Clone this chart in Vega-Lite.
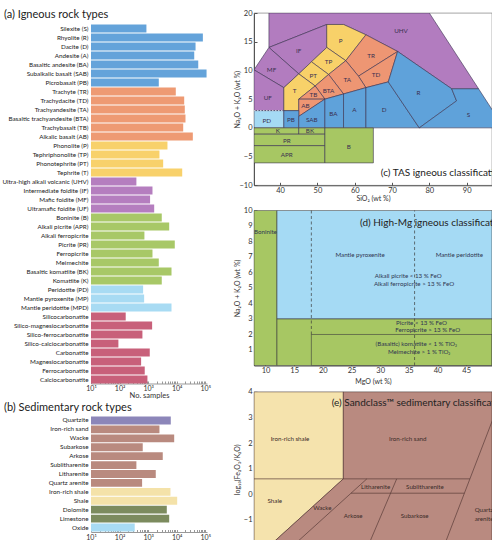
{
  "$schema": "https://vega.github.io/schema/vega-lite/v6.json",
  "background": "white",
  "padding": {"left": 0, "top": 8, "right": 0, "bottom": 0},
  "spacing": 21,
  "resolve": {"scale": {"color": "independent", "fill": "independent", "x": "independent", "y": "independent"}},
  "config": {
    "font": "Lato",
    "axis": {"labelFont": "Lato", "titleFont": "Lato", "labelColor": "#333", "titleColor": "#333", "grid": false, "titleFontWeight": "normal", "labelOverlap": false, "tickCount": 100},
    "title": {"font": "Lato", "fontWeight": "normal", "color": "#222"},
    "text": {"font": "Lato"}
  },
  "hconcat": [
    {
      "spacing": 3,
      "resolve": {"scale": {"color": "independent", "fill": "independent", "x": "independent", "y": "independent"}},
      "vconcat": [
        {
          "width": 116,
          "height": 370.5,
          "view": {"stroke": null},
          "title": {"text": "(a) Igneous rock types", "anchor": "start", "frame": "group", "dx": -87, "fontSize": 11, "offset": -7},
          "data": {"values": [
            {"rock": "Silexite (S)", "n": 871, "grp": "sub"},
            {"rock": "Rhyolite (R)", "n": 82400, "grp": "sub"},
            {"rock": "Dacite (D)", "n": 45700, "grp": "sub"},
            {"rock": "Andesite (A)", "n": 41100, "grp": "sub"},
            {"rock": "Basaltic andesite (BA)", "n": 56800, "grp": "sub"},
            {"rock": "Subalkalic basalt (SAB)", "n": 111000, "grp": "sub"},
            {"rock": "Picrobasalt (PB)", "n": 2360, "grp": "sub"},
            {"rock": "Trachyte (TR)", "n": 9290, "grp": "alk"},
            {"rock": "Trachydacite (TD)", "n": 18300, "grp": "alk"},
            {"rock": "Trachyandesite (TA)", "n": 19200, "grp": "alk"},
            {"rock": "Basaltic trachyandesite (BTA)", "n": 20300, "grp": "alk"},
            {"rock": "Trachybasalt (TB)", "n": 16900, "grp": "alk"},
            {"rock": "Alkalic basalt (AB)", "n": 36700, "grp": "alk"},
            {"rock": "Phonolite (P)", "n": 4750, "grp": "pho"},
            {"rock": "Tephriphonolite (TP)", "n": 2490, "grp": "pho"},
            {"rock": "Phonotephrite (PT)", "n": 3360, "grp": "pho"},
            {"rock": "Tephrite (T)", "n": 15600, "grp": "pho"},
            {"rock": "Ultra-high alkali volcanic (UHV)", "n": 388, "grp": "foi"},
            {"rock": "Intermediate foidite (IF)", "n": 1420, "grp": "foi"},
            {"rock": "Mafic foidite (MF)", "n": 1170, "grp": "foi"},
            {"rock": "Ultramafic foidite (UF)", "n": 1630, "grp": "foi"},
            {"rock": "Boninite (B)", "n": 3000, "grp": "hmg"},
            {"rock": "Alkali picrite (APR)", "n": 5460, "grp": "hmg"},
            {"rock": "Alkali ferropicrite", "n": 741, "grp": "hmg"},
            {"rock": "Picrite (PR)", "n": 8570, "grp": "hmg"},
            {"rock": "Ferropicrite", "n": 1420, "grp": "hmg"},
            {"rock": "Meimechite", "n": 2360, "grp": "hmg"},
            {"rock": "Basaltic komatiite (BK)", "n": 6580, "grp": "hmg"},
            {"rock": "Komatiite (K)", "n": 3000, "grp": "hmg"},
            {"rock": "Peridotite (PD)", "n": 668, "grp": "man"},
            {"rock": "Mantle pyroxenite (MP)", "n": 725, "grp": "man"},
            {"rock": "Mantle peridotite (MPD)", "n": 6580, "grp": "man"},
            {"rock": "Silicocarbonatite", "n": 164, "grp": "carb"},
            {"rock": "Silico-magnesiocarbonatite", "n": 1380, "grp": "carb"},
            {"rock": "Silico-ferrocarbonatite", "n": 631, "grp": "carb"},
            {"rock": "Silico-calciocarbonatite", "n": 91, "grp": "carb"},
            {"rock": "Carbonatite", "n": 1140, "grp": "carb"},
            {"rock": "Magnesiocarbonatite", "n": 568, "grp": "carb"},
            {"rock": "Ferrocarbonatite", "n": 760, "grp": "carb"},
            {"rock": "Calciocarbonatite", "n": 944, "grp": "carb"}
          ]},
          "mark": {"type": "bar"},
          "encoding": {
            "y": {"field": "rock", "type": "nominal", "sort": null,
              "scale": {"paddingInner": 0.12, "paddingOuter": 0.645, "align": 1},
              "axis": {"title": null, "ticks": false, "domain": false, "labelFontSize": 6.3, "labelPadding": 3, "minExtent": 90.7, "maxExtent": 90.7, "labelLimit": 0, "labelColor": "#222"}},
            "x": {"field": "n", "type": "quantitative", "stack": null,
              "scale": {"type": "log", "domain": [10, 115000], "nice": false},
              "axis": {"title": "No. samples", "titleFontSize": 7.5, "titlePadding": 0, "tickCount": 100,
                "values": [10,20,30,40,50,60,70,80,90,100,200,300,400,500,600,700,800,900,1000,2000,3000,4000,5000,6000,7000,8000,9000,10000,20000,30000,40000,50000,60000,70000,80000,90000,100000],
                "labelExpr": "datum.value == 10 ? '10¹' : datum.value == 100 ? '10²' : datum.value == 1000 ? '10³' : datum.value == 10000 ? '10⁴' : datum.value == 100000 ? '10⁵' : ''",
                "labelFontSize": 7, "labelFlush": false, "labelOverlap": false, "tickSize": -2.5, "labelPadding": 3, "domainColor": "#999", "tickColor": "#999"}},
            "color": {"field": "grp", "type": "nominal", "legend": null,
              "scale": {"domain": ["sub", "alk", "pho", "foi", "hmg", "man", "carb"], "range": ["#64a3da", "#ee9a73", "#f8d16b", "#b57ebf", "#a8c867", "#a8dbf3", "#c8607a"]}}
          }
        },
        {
          "width": 116,
          "height": 116,
          "view": {"stroke": null},
          "title": {"text": "(b) Sedimentary rock types", "anchor": "start", "frame": "group", "dx": -87, "fontSize": 11, "offset": 3},
          "data": {"values": [
            {"rock": "Quartzite", "n": 6210, "grp": "qtz"},
            {"rock": "Iron-rich sand", "n": 2490, "grp": "sand"},
            {"rock": "Wacke", "n": 8170, "grp": "sand"},
            {"rock": "Subarkose", "n": 647, "grp": "sand"},
            {"rock": "Arkose", "n": 3250, "grp": "sand"},
            {"rock": "Sublitharenite", "n": 388, "grp": "sand"},
            {"rock": "Litharenite", "n": 1850, "grp": "sand"},
            {"rock": "Quartz arenite", "n": 615, "grp": "sand"},
            {"rock": "Iron-rich shale", "n": 6050, "grp": "shale"},
            {"rock": "Shale", "n": 10400, "grp": "shale"},
            {"rock": "Dolomite", "n": 4500, "grp": "carb"},
            {"rock": "Limestone", "n": 5460, "grp": "carb"},
            {"rock": "Oxide", "n": 339, "grp": "ox"}
          ]},
          "mark": {"type": "bar"},
          "encoding": {
            "y": {"field": "rock", "type": "nominal", "sort": null,
              "scale": {"paddingInner": 0.12, "paddingOuter": 0.06},
              "axis": {"title": null, "ticks": false, "domain": false, "labelFontSize": 6.3, "labelPadding": 3, "minExtent": 90.7, "maxExtent": 90.7, "labelLimit": 0, "labelColor": "#222"}},
            "x": {"field": "n", "type": "quantitative", "stack": null,
              "scale": {"type": "log", "domain": [10, 115000], "nice": false},
              "axis": {"title": null, "tickCount": 100,
                "values": [10,20,30,40,50,60,70,80,90,100,200,300,400,500,600,700,800,900,1000,2000,3000,4000,5000,6000,7000,8000,9000,10000,20000,30000,40000,50000,60000,70000,80000,90000,100000],
                "labelExpr": "datum.value == 10 ? '10¹' : datum.value == 100 ? '10²' : datum.value == 1000 ? '10³' : datum.value == 10000 ? '10⁴' : datum.value == 100000 ? '10⁵' : ''",
                "labelFontSize": 7, "labelFlush": false, "labelOverlap": false, "tickSize": -2.5, "labelPadding": 4, "domainColor": "#999", "tickColor": "#999"}},
            "color": {"field": "grp", "type": "nominal", "legend": null,
              "scale": {"domain": ["qtz", "sand", "shale", "carb", "ox"], "range": ["#8c86b9", "#b98a7f", "#f4e2a9", "#7c8b5e", "#a8dbf3"]}}
          }
        }
      ]
    },
    {
      "spacing": 2.4,
      "resolve": {"scale": {"color": "independent", "fill": "independent", "x": "independent", "y": "independent"}},
      "vconcat": [
        {
          "width": 238,
          "height": 172.3,
          "view": {"stroke": "#666", "strokeWidth": 0.6},
          "layer": [
            {
              "data": {"values": [
                {"f":"UHV","g":"fo","i":0,"x":37,"y":20},{"f":"UHV","g":"fo","i":1,"x":80,"y":20},{"f":"UHV","g":"fo","i":2,"x":93.2,"y":6.8},{"f":"UHV","g":"fo","i":3,"x":86,"y":6.8},{"f":"UHV","g":"fo","i":4,"x":71.5,"y":13.3},{"f":"UHV","g":"fo","i":5,"x":63,"y":16.2},{"f":"UHV","g":"fo","i":6,"x":57,"y":18},{"f":"UHV","g":"fo","i":7,"x":52.5,"y":18},{"f":"UHV","g":"fo","i":8,"x":37,"y":14},{"f":"UHV","g":"fo","i":9,"x":37,"y":20},
                {"f":"IF","g":"fo","i":0,"x":37,"y":14},{"f":"IF","g":"fo","i":1,"x":52.5,"y":18},{"f":"IF","g":"fo","i":2,"x":52.5,"y":14},{"f":"IF","g":"fo","i":3,"x":48.4,"y":11.5},{"f":"IF","g":"fo","i":4,"x":45,"y":9.4},{"f":"IF","g":"fo","i":5,"x":37,"y":14},
                {"f":"MF","g":"fo","i":0,"x":33,"y":10.1},{"f":"MF","g":"fo","i":1,"x":37,"y":14},{"f":"MF","g":"fo","i":2,"x":45,"y":9.4},{"f":"MF","g":"fo","i":3,"x":41,"y":7},{"f":"MF","g":"fo","i":4,"x":33,"y":10.1},
                {"f":"UF","g":"fo","i":0,"x":33,"y":10.1},{"f":"UF","g":"fo","i":1,"x":41,"y":7},{"f":"UF","g":"fo","i":2,"x":41,"y":3},{"f":"UF","g":"fo","i":3,"x":33,"y":3},{"f":"UF","g":"fo","i":4,"x":33,"y":10.1},
                {"f":"P","g":"ph","i":0,"x":52.5,"y":14},{"f":"P","g":"ph","i":1,"x":52.5,"y":18},{"f":"P","g":"ph","i":2,"x":57,"y":18},{"f":"P","g":"ph","i":3,"x":63,"y":16.2},{"f":"P","g":"ph","i":4,"x":57.6,"y":11.7},{"f":"P","g":"ph","i":5,"x":52.5,"y":14},
                {"f":"TP","g":"ph","i":0,"x":48.4,"y":11.5},{"f":"TP","g":"ph","i":1,"x":52.5,"y":14},{"f":"TP","g":"ph","i":2,"x":57.6,"y":11.7},{"f":"TP","g":"ph","i":3,"x":53,"y":9.3},{"f":"TP","g":"ph","i":4,"x":48.4,"y":11.5},
                {"f":"PT","g":"ph","i":0,"x":45,"y":9.4},{"f":"PT","g":"ph","i":1,"x":48.4,"y":11.5},{"f":"PT","g":"ph","i":2,"x":53,"y":9.3},{"f":"PT","g":"ph","i":3,"x":49.4,"y":7.3},{"f":"PT","g":"ph","i":4,"x":45,"y":9.4},
                {"f":"T","g":"ph","i":0,"x":41,"y":7},{"f":"T","g":"ph","i":1,"x":45,"y":9.4},{"f":"T","g":"ph","i":2,"x":49.4,"y":7.3},{"f":"T","g":"ph","i":3,"x":45,"y":5},{"f":"T","g":"ph","i":4,"x":45,"y":3},{"f":"T","g":"ph","i":5,"x":41,"y":3},{"f":"T","g":"ph","i":6,"x":41,"y":7},
                {"f":"TR","g":"tr","i":0,"x":57.6,"y":11.7},{"f":"TR","g":"tr","i":1,"x":63,"y":16.2},{"f":"TR","g":"tr","i":2,"x":71.5,"y":13.3},{"f":"TR","g":"tr","i":3,"x":61,"y":9},{"f":"TR","g":"tr","i":4,"x":57.6,"y":11.7},
                {"f":"TD","g":"tr","i":0,"x":61,"y":9},{"f":"TD","g":"tr","i":1,"x":71.5,"y":13.3},{"f":"TD","g":"tr","i":2,"x":69,"y":8},{"f":"TD","g":"tr","i":3,"x":63,"y":7},{"f":"TD","g":"tr","i":4,"x":61,"y":9},
                {"f":"TA","g":"tr","i":0,"x":53,"y":9.3},{"f":"TA","g":"tr","i":1,"x":57.6,"y":11.7},{"f":"TA","g":"tr","i":2,"x":61,"y":9},{"f":"TA","g":"tr","i":3,"x":63,"y":7},{"f":"TA","g":"tr","i":4,"x":57,"y":5.9},{"f":"TA","g":"tr","i":5,"x":53,"y":9.3},
                {"f":"BTA","g":"tr","i":0,"x":49.4,"y":7.3},{"f":"BTA","g":"tr","i":1,"x":53,"y":9.3},{"f":"BTA","g":"tr","i":2,"x":57,"y":5.9},{"f":"BTA","g":"tr","i":3,"x":52,"y":5},{"f":"BTA","g":"tr","i":4,"x":49.4,"y":7.3},
                {"f":"TB","g":"tr","i":0,"x":45,"y":5},{"f":"TB","g":"tr","i":1,"x":49.4,"y":7.3},{"f":"TB","g":"tr","i":2,"x":52,"y":5},{"f":"TB","g":"tr","i":3,"x":45,"y":5},
                {"f":"AB","g":"tr","i":0,"x":45,"y":2},{"f":"AB","g":"tr","i":1,"x":45,"y":5},{"f":"AB","g":"tr","i":2,"x":52,"y":5},{"f":"AB","g":"tr","i":3,"x":45,"y":2},
                {"f":"PD","g":"pd","i":0,"x":33,"y":0},{"f":"PD","g":"pd","i":1,"x":33,"y":3},{"f":"PD","g":"pd","i":2,"x":41,"y":3},{"f":"PD","g":"pd","i":3,"x":41,"y":0},{"f":"PD","g":"pd","i":4,"x":33,"y":0},
                {"f":"PB","g":"sub","i":0,"x":41,"y":0},{"f":"PB","g":"sub","i":1,"x":41,"y":3},{"f":"PB","g":"sub","i":2,"x":45,"y":3},{"f":"PB","g":"sub","i":3,"x":45,"y":0},{"f":"PB","g":"sub","i":4,"x":41,"y":0},
                {"f":"SAB","g":"sub","i":0,"x":45,"y":0},{"f":"SAB","g":"sub","i":1,"x":45,"y":2},{"f":"SAB","g":"sub","i":2,"x":52,"y":5},{"f":"SAB","g":"sub","i":3,"x":52,"y":0},{"f":"SAB","g":"sub","i":4,"x":45,"y":0},
                {"f":"BA","g":"sub","i":0,"x":52,"y":0},{"f":"BA","g":"sub","i":1,"x":52,"y":5},{"f":"BA","g":"sub","i":2,"x":57,"y":5.9},{"f":"BA","g":"sub","i":3,"x":57,"y":0},{"f":"BA","g":"sub","i":4,"x":52,"y":0},
                {"f":"A","g":"sub","i":0,"x":57,"y":0},{"f":"A","g":"sub","i":1,"x":57,"y":5.9},{"f":"A","g":"sub","i":2,"x":63,"y":7},{"f":"A","g":"sub","i":3,"x":63,"y":0},{"f":"A","g":"sub","i":4,"x":57,"y":0},
                {"f":"D","g":"sub","i":0,"x":63,"y":0},{"f":"D","g":"sub","i":1,"x":63,"y":7},{"f":"D","g":"sub","i":2,"x":69,"y":8},{"f":"D","g":"sub","i":3,"x":77.3,"y":0},{"f":"D","g":"sub","i":4,"x":63,"y":0},
                {"f":"R","g":"sub","i":0,"x":69,"y":8},{"f":"R","g":"sub","i":1,"x":71.5,"y":13.3},{"f":"R","g":"sub","i":2,"x":86,"y":6.8},{"f":"R","g":"sub","i":3,"x":87.3,"y":4.7},{"f":"R","g":"sub","i":4,"x":77.3,"y":0},{"f":"R","g":"sub","i":5,"x":69,"y":8},
                {"f":"S","g":"sub","i":0,"x":77.3,"y":0},{"f":"S","g":"sub","i":1,"x":87.3,"y":4.7},{"f":"S","g":"sub","i":2,"x":86,"y":6.8},{"f":"S","g":"sub","i":3,"x":93.2,"y":6.8},{"f":"S","g":"sub","i":4,"x":100,"y":0},{"f":"S","g":"sub","i":5,"x":77.3,"y":0},
                {"f":"K","g":"hm","i":0,"x":33,"y":0},{"f":"K","g":"hm","i":1,"x":45,"y":0},{"f":"K","g":"hm","i":2,"x":45,"y":-1.1},{"f":"K","g":"hm","i":3,"x":33,"y":-1.1},{"f":"K","g":"hm","i":4,"x":33,"y":0},
                {"f":"BK","g":"hm","i":0,"x":45,"y":0},{"f":"BK","g":"hm","i":1,"x":52,"y":0},{"f":"BK","g":"hm","i":2,"x":52,"y":-1.1},{"f":"BK","g":"hm","i":3,"x":45,"y":-1.1},{"f":"BK","g":"hm","i":4,"x":45,"y":0},
                {"f":"PR","g":"hm","i":0,"x":33,"y":-1.1},{"f":"PR","g":"hm","i":1,"x":52,"y":-1.1},{"f":"PR","g":"hm","i":2,"x":52,"y":-3.1},{"f":"PR","g":"hm","i":3,"x":33,"y":-3.1},{"f":"PR","g":"hm","i":4,"x":33,"y":-1.1},
                {"f":"APR","g":"hm","i":0,"x":33,"y":-3.1},{"f":"APR","g":"hm","i":1,"x":52,"y":-3.1},{"f":"APR","g":"hm","i":2,"x":52,"y":-6.1},{"f":"APR","g":"hm","i":3,"x":33,"y":-6.1},{"f":"APR","g":"hm","i":4,"x":33,"y":-3.1},
                {"f":"B","g":"hm","i":0,"x":52,"y":0},{"f":"B","g":"hm","i":1,"x":65,"y":0},{"f":"B","g":"hm","i":2,"x":65,"y":-6.1},{"f":"B","g":"hm","i":3,"x":52,"y":-6.1},{"f":"B","g":"hm","i":4,"x":52,"y":0}
              ]},
              "mark": {"type": "line", "stroke": "#3b3350", "strokeWidth": 0.6, "clip": true},
              "encoding": {
                "x": {"field": "x", "type": "quantitative", "scale": {"domain": [33, 96.8], "nice": false, "zero": false},
                  "axis": {"title": "SiO₂ (wt %)", "format": "d", "values": [40, 50, 60, 70, 80, 90], "tickCount": 100, "labelOverlap": false, "labelFontSize": 7.5, "titleFontSize": 7, "titlePadding": 1, "tickSize": -3, "labelPadding": 4, "domainColor": "#555", "tickColor": "#555"}},
                "y": {"field": "y", "type": "quantitative", "scale": {"domain": [-10, 20], "nice": false, "zero": false},
                  "axis": {"title": "Na₂O + K₂O (wt %)", "format": "d", "values": [-10, -5, 0, 5, 10, 15, 20], "tickCount": 100, "labelOverlap": false, "labelFontSize": 7.5, "titleFontSize": 7, "titlePadding": 2, "minExtent": 12, "maxExtent": 12, "tickSize": -3, "labelPadding": 5, "domainColor": "#555", "tickColor": "#555"}},
                "detail": {"field": "f", "type": "nominal"},
                "order": {"field": "i", "type": "quantitative"},
                "fill": {"field": "g", "type": "nominal", "legend": null,
                  "scale": {"domain": ["fo", "ph", "tr", "sub", "pd", "hm"], "range": ["#b27cbf", "#f8d169", "#ee9673", "#5fa2da", "#a5daf4", "#a7c763"]}}
              }
            },
            {
              "data": {"values": [
                {"x1": 33, "x2": 41, "y": 3}
              ]},
              "mark": {"type": "rule", "stroke": "#f4f8fb", "strokeWidth": 0.8, "strokeDash": [1.5, 1.5]},
              "encoding": {
                "x": {"field": "x1", "type": "quantitative"},
                "x2": {"field": "x2"},
                "y": {"field": "y", "type": "quantitative"}
              }
            },
            {
              "data": {"values": [
                {"t":"UHV","x":72.4,"y":16.8},{"t":"IF","x":45,"y":13.4},{"t":"MF","x":37.7,"y":10.1},{"t":"UF","x":36.7,"y":5.2},
                {"t":"P","x":56.2,"y":15.2},{"t":"TP","x":53,"y":11.5},{"t":"PT","x":48.9,"y":9.1},{"t":"T","x":43.9,"y":6.5},
                {"t":"TR","x":64.4,"y":12.5},{"t":"TD","x":65.7,"y":9.2},{"t":"TA","x":58,"y":8.3},{"t":"BTA","x":53,"y":6.5},{"t":"TB","x":48.9,"y":5.7},{"t":"AB","x":46.8,"y":3.8},
                {"t":"PD","x":36.4,"y":1.2},{"t":"PB","x":42.9,"y":1.3},{"t":"SAB","x":48.5,"y":1.3},{"t":"BA","x":54.3,"y":2.4},{"t":"A","x":59.9,"y":3.1},{"t":"D","x":67.9,"y":3.1},{"t":"R","x":77.1,"y":6.1},{"t":"S","x":90.5,"y":2.3},
                {"t":"K","x":39.4,"y":-0.6},{"t":"BK","x":48,"y":-0.6},{"t":"PR","x":41.8,"y":-2.2},{"t":"APR","x":41.8,"y":-4.8},{"t":"B","x":58.4,"y":-3.3}
              ]},
              "mark": {"type": "text", "fontSize": 6.3, "fill": "#3a3050", "clip": true},
              "encoding": {
                "x": {"field": "x", "type": "quantitative"},
                "y": {"field": "y", "type": "quantitative"},
                "text": {"field": "t", "type": "nominal"}
              }
            },
            {
              "data": {"values": [{"t": "(c) TAS igneous classification", "x": 67, "y": -7.8}]},
              "mark": {"type": "text", "fontSize": 10, "align": "left", "fill": "#222", "clip": true},
              "encoding": {
                "x": {"field": "x", "type": "quantitative"},
                "y": {"field": "y", "type": "quantitative"},
                "text": {"field": "t", "type": "nominal"}
              }
            }
          ]
        },
        {
          "width": 238,
          "height": 155.1,
          "view": {"stroke": "#666", "strokeWidth": 0.6},
          "layer": [
            {
              "data": {"values": [
                {"z": "gr", "x1": 8, "x2": 12, "y1": 0, "y2": 10},
                {"z": "bl", "x1": 12, "x2": 49.5, "y1": 3, "y2": 10},
                {"z": "gr", "x1": 12, "x2": 49.5, "y1": 0, "y2": 3},
                {"z": "no", "x1": 18, "x2": 49.5, "y1": 0, "y2": 2}
              ]},
              "mark": {"type": "rect", "stroke": "#3b3b3b", "strokeWidth": 0.6, "clip": true},
              "encoding": {
                "x": {"field": "x1", "type": "quantitative", "scale": {"domain": [8, 49.5], "nice": false, "zero": false},
                  "axis": {"title": "MgO (wt %)", "format": "d", "values": [10, 15, 20, 25, 30, 35, 40, 45], "tickCount": 100, "labelOverlap": false, "labelFontSize": 7.5, "titleFontSize": 7, "titlePadding": 3, "tickSize": -3, "labelPadding": 4, "domainColor": "#555", "tickColor": "#555"}},
                "x2": {"field": "x2"},
                "y": {"field": "y1", "type": "quantitative", "scale": {"domain": [0, 10], "nice": false, "zero": false},
                  "axis": {"title": "Na₂O + K₂O (wt %)", "format": "d", "values": [1, 2, 3, 4, 5, 6, 7, 8, 9, 10], "tickCount": 100, "labelOverlap": false, "labelFontSize": 7.5, "titleFontSize": 7, "titlePadding": 2, "minExtent": 12, "maxExtent": 12, "tickSize": -3, "labelPadding": 5, "domainColor": "#555", "tickColor": "#555"}},
                "y2": {"field": "y2"},
                "fill": {"field": "z", "type": "nominal", "legend": null,
                  "scale": {"domain": ["gr", "bl", "no"], "range": ["#a7c763", "#a5daf4", "transparent"]}}
              }
            },
            {
              "data": {"values": [
                {"x": 18, "y1": 2, "y2": 10},
                {"x": 36, "y1": 0, "y2": 10}
              ]},
              "mark": {"type": "rule", "stroke": "#3b3b3b", "strokeWidth": 0.7, "strokeDash": [3, 2.5]},
              "encoding": {
                "x": {"field": "x", "type": "quantitative"},
                "y": {"field": "y1", "type": "quantitative"},
                "y2": {"field": "y2"}
              }
            },
            {
              "data": {"values": [
                {"t": "Boninite", "x": 10, "y": 8.6},
                {"t": "Mantle pyroxenite", "x": 26.5, "y": 7.13},
                {"t": "Mantle peridotite", "x": 43.8, "y": 7.13},
                {"t": "Alkali picrite < 13 % FeO", "x": 34.9, "y": 5.77},
                {"t": "Alkali ferropicrite > 13 % FeO", "x": 35.9, "y": 5.28},
                {"t": "Picrite < 13 % FeO", "x": 37.2, "y": 2.76},
                {"t": "Ferropicrite > 13 % FeO", "x": 38.3, "y": 2.27},
                {"t": "(Basaltic) komatiite < 1 % TiO₂", "x": 36.3, "y": 1.36},
                {"t": "Meimechite > 1 % TiO₂", "x": 36.8, "y": 0.87}
              ]},
              "mark": {"type": "text", "fontSize": 6.2, "fill": "#2f3550", "clip": true},
              "encoding": {
                "x": {"field": "x", "type": "quantitative"},
                "y": {"field": "y", "type": "quantitative"},
                "text": {"field": "t", "type": "nominal"}
              }
            },
            {
              "data": {"values": [{"t": "(d) High-Mg igneous classification", "x": 26.5, "y": 9.16}]},
              "mark": {"type": "text", "fontSize": 10, "align": "left", "fill": "#222", "clip": true},
              "encoding": {
                "x": {"field": "x", "type": "quantitative"},
                "y": {"field": "y", "type": "quantitative"},
                "text": {"field": "t", "type": "nominal"}
              }
            }
          ]
        },
        {
          "width": 238,
          "height": 154.9,
          "view": {"stroke": "#666", "strokeWidth": 0.6},
          "layer": [
            {
              "data": {"values": [
                {"f":"SH","g":"sh","i":0,"x":0,"y":4},{"f":"SH","g":"sh","i":1,"x":0.901,"y":4},{"f":"SH","g":"sh","i":2,"x":0.901,"y":0.6},{"f":"SH","g":"sh","i":3,"x":0.147,"y":-2.05},{"f":"SH","g":"sh","i":4,"x":0,"y":-2.05},{"f":"SH","g":"sh","i":5,"x":0,"y":4},
                {"f":"SA","g":"sa","i":0,"x":0.901,"y":4},{"f":"SA","g":"sa","i":1,"x":2.4,"y":4},{"f":"SA","g":"sa","i":2,"x":2.4,"y":-2.05},{"f":"SA","g":"sa","i":3,"x":0.147,"y":-2.05},{"f":"SA","g":"sa","i":4,"x":0.901,"y":0.6},{"f":"SA","g":"sa","i":5,"x":0.901,"y":4}
              ]},
              "mark": {"type": "line", "stroke": "#5a3c38", "strokeWidth": 0.7, "clip": true},
              "encoding": {
                "x": {"field": "x", "type": "quantitative", "scale": {"domain": [0, 2.4], "nice": false, "zero": false},
                  "axis": {"title": null, "labels": false, "tickCount": 100, "values": [0.25, 0.5, 0.75, 1, 1.25, 1.5, 1.75, 2, 2.25], "tickSize": -3, "domainColor": "#555", "tickColor": "#555"}},
                "y": {"field": "y", "type": "quantitative", "scale": {"domain": [-2.05, 4], "nice": false, "zero": false},
                  "axis": {"title": "log₁₀(Fe₂O₃/K₂O)", "format": "d", "values": [-2, -1, 0, 1, 2, 3, 4], "tickCount": 100, "labelOverlap": false, "labelFontSize": 7.5, "titleFontSize": 7, "titlePadding": 2, "minExtent": 12, "maxExtent": 12, "tickSize": -3, "labelPadding": 5, "domainColor": "#555", "tickColor": "#555"}},
                "detail": {"field": "f", "type": "nominal"},
                "order": {"field": "i", "type": "quantitative"},
                "fill": {"field": "g", "type": "nominal", "legend": null,
                  "scale": {"domain": ["sh", "sa"], "range": ["#f5e3ad", "#b98a80"]}}
              }
            },
            {
              "data": {"values": [
                {"l":"L1","i":0,"x":0,"y":0.6},{"l":"L1","i":1,"x":2.177,"y":0.6},
                {"l":"L2","i":0,"x":0.383,"y":-2.05},{"l":"L2","i":1,"x":1.138,"y":0.6},
                {"l":"L3","i":0,"x":0.978,"y":0.04},{"l":"L3","i":1,"x":2.122,"y":0.04},
                {"l":"L4","i":0,"x":1.1475,"y":-2.05},{"l":"L4","i":1,"x":1.439,"y":0.6},
                {"l":"L5","i":0,"x":1.914,"y":-2.05},{"l":"L5","i":1,"x":2.515,"y":4}
              ]},
              "mark": {"type": "line", "stroke": "#5a3c38", "strokeWidth": 0.7, "clip": true},
              "encoding": {
                "x": {"field": "x", "type": "quantitative"},
                "y": {"field": "y", "type": "quantitative"},
                "detail": {"field": "l", "type": "nominal"},
                "order": {"field": "i", "type": "quantitative"}
              }
            },
            {
              "data": {"values": [
                {"t": "Iron-rich shale", "x": 0.363, "y": 2.16},
                {"t": "Iron-rich sand", "x": 1.55, "y": 2.16},
                {"t": "Shale", "x": 0.21, "y": -0.25},
                {"t": "Wacke", "x": 0.689, "y": -0.53},
                {"t": "Arkose", "x": 1.0, "y": -0.87},
                {"t": "Subarkose", "x": 1.62, "y": -0.87},
                {"t": "Litharenite", "x": 1.227, "y": 0.3},
                {"t": "Sublitharenite", "x": 1.724, "y": 0.3}
              ]},
              "mark": {"type": "text", "fontSize": 6.2, "fill": "#3a2a28", "clip": true},
              "encoding": {
                "x": {"field": "x", "type": "quantitative"},
                "y": {"field": "y", "type": "quantitative"},
                "text": {"field": "t", "type": "nominal"}
              }
            },
            {
              "data": {"values": [
                {"t": "Quartz", "x": 2.225, "y": -0.6},
                {"t": "arenite", "x": 2.225, "y": -0.95}
              ]},
              "mark": {"type": "text", "fontSize": 6.2, "align": "left", "fill": "#3a2a28", "clip": true},
              "encoding": {
                "x": {"field": "x", "type": "quantitative"},
                "y": {"field": "y", "type": "quantitative"},
                "text": {"field": "t", "type": "nominal"}
              }
            },
            {
              "data": {"values": [{"t": "(e) Sandclass™ sedimentary classification", "x": 0.783, "y": 3.57}]},
              "mark": {"type": "text", "fontSize": 10, "align": "left", "fill": "#222", "clip": true},
              "encoding": {
                "x": {"field": "x", "type": "quantitative"},
                "y": {"field": "y", "type": "quantitative"},
                "text": {"field": "t", "type": "nominal"}
              }
            }
          ]
        }
      ]
    }
  ]
}
